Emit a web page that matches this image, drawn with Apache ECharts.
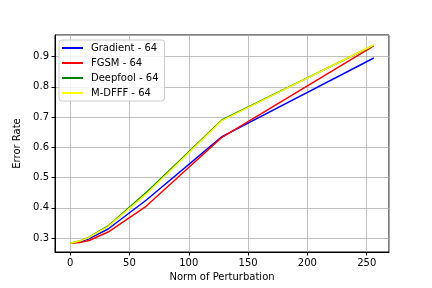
<!DOCTYPE html>
<html>
<head>
<meta charset="utf-8">
<script src="https://cdn.jsdelivr.net/npm/echarts@6/dist/echarts.min.js"></script>
<style>html,body{margin:0;padding:0;background:#fff}#c{width:432px;height:288px}</style>
</head>
<body>
<div id="c"></div>
<script>
const norms = [0, 8, 16, 32, 64, 128, 256];
const gradient = [0.283, 0.288, 0.298, 0.330, 0.425, 0.635, 0.895];
const fgsm     = [0.283, 0.285, 0.292, 0.320, 0.405, 0.633, 0.935];
const deepfool = [0.283, 0.290, 0.303, 0.340, 0.450, 0.690, 0.937];
const mdfff    = [0.283, 0.290, 0.302, 0.338, 0.445, 0.688, 0.938];
const seriesNames = ['Gradient - 64', 'FGSM - 64', 'Deepfool - 64', 'M-DFFF - 64'];
const seriesColors = ['#0000ff', '#ff0000', '#008000', '#ffff00'];
const seriesData = [gradient, fgsm, deepfool, mdfff];

const font = 'DejaVu Sans';
const chart = echarts.init(document.getElementById('c'), null, {renderer: 'canvas'});
chart.setOption({
  animation: false,
  backgroundColor: '#fff',
  textStyle: {fontFamily: font},
  grid: {left: 55, right: 43, top: 35, bottom: 36, show: true, borderColor: '#000', borderWidth: 1},
  legend: {
    orient: 'vertical', left: 59, top: 40,
    itemWidth: 21, itemHeight: 2, itemGap: 5,
    icon: 'rect',
    backgroundColor: 'rgba(255,255,255,0.8)', borderColor: '#cccccc', borderWidth: 1, borderRadius: 3,
    padding: [3, 6, 3, 3],
    textStyle: {fontFamily: font, fontSize: 10, color: '#000', padding: [0, 0, 0, 3]},
    data: seriesNames
  },
  xAxis: {
    type: 'value', min: -12.8, max: 268.8, splitNumber: 6, minInterval: 50, maxInterval: 50,
    name: 'Norm of Perturbation', nameLocation: 'middle', nameGap: 20,
    nameTextStyle: {fontFamily: font, fontSize: 10, color: '#000'},
    axisLine: {show: true, onZero: false, lineStyle: {color: '#000', width: 1}},
    axisTick: {show: true, length: 3.5, inside: false, lineStyle: {color: '#000'}},
    axisLabel: {fontFamily: font, fontSize: 10, color: '#000', margin: 6, showMinLabel: false, showMaxLabel: false},
    splitLine: {show: true, lineStyle: {color: '#b0b0b0', width: 0.8}}
  },
  yAxis: {
    type: 'value', min: 0.254, max: 0.971, splitNumber: 7, minInterval: 0.1, maxInterval: 0.1,
    name: 'Error Rate', nameLocation: 'middle', nameGap: 28,
    nameTextStyle: {fontFamily: font, fontSize: 10, color: '#000'},
    axisLine: {show: true, onZero: false, lineStyle: {color: '#000', width: 1}},
    axisTick: {show: true, length: 3.5, inside: false, lineStyle: {color: '#000'}},
    axisLabel: {fontFamily: font, fontSize: 10, color: '#000', margin: 6, showMinLabel: false, showMaxLabel: false,
      formatter: v => v.toFixed(1)},
    splitLine: {show: true, lineStyle: {color: '#b0b0b0', width: 0.8}}
  },
  series: seriesNames.map((name, i) => ({
    name: name, type: 'line', showSymbol: false, symbol: 'none',
    data: norms.map((x, j) => [x, seriesData[i][j]]),
    lineStyle: {color: seriesColors[i], width: 1.5},
    itemStyle: {color: seriesColors[i]}
  }))
});
</script>
</body>
</html>
